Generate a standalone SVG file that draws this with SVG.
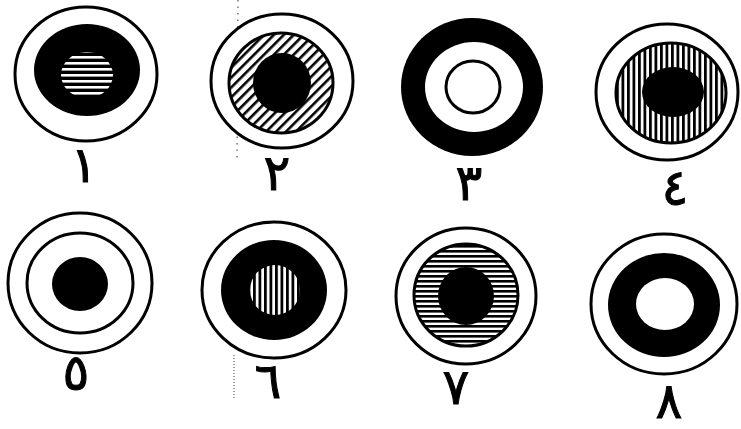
<svg xmlns="http://www.w3.org/2000/svg" width="741" height="429" viewBox="0 0 741 429">
<style>
.outer{fill:#fff;stroke:#000;stroke-width:3}
.thin{fill:none;stroke:#000;stroke-width:3}
.blk{fill:#000}
.wht{fill:#fff}
.lbl{font-family:"DejaVu Sans",sans-serif;font-weight:normal;font-size:50px;fill:#000;stroke:#000;stroke-width:1;text-anchor:middle}
</style>
<defs>
<pattern id="hh" patternUnits="userSpaceOnUse" width="8" height="5"><rect width="8" height="5" fill="#fff"/><rect width="8" height="2.6" fill="#000"/></pattern>
<pattern id="hh1" patternUnits="userSpaceOnUse" width="8" height="6"><rect width="8" height="6" fill="#000"/><rect y="2" width="8" height="2.6" fill="#fff"/></pattern>
<pattern id="hv" patternUnits="userSpaceOnUse" width="5.5" height="8"><rect width="5.5" height="8" fill="#fff"/><rect width="2.8" height="8" fill="#000"/></pattern>
<pattern id="hd" patternUnits="userSpaceOnUse" width="7" height="7" patternTransform="rotate(45)"><rect width="7" height="7" fill="#fff"/><rect width="2.6" height="7" fill="#000"/></pattern>
</defs>
<rect width="741" height="429" fill="#fff"/>
<g id="artifacts" fill="none" stroke="#555" stroke-width="1.2" stroke-dasharray="1.5 5">
<line x1="238" y1="0" x2="237" y2="160"/>
<line x1="234" y1="355" x2="234" y2="398" stroke-dasharray="1 2"/>
</g>
<g id="connectors"/>
<g id="n1">
<ellipse class="outer" cx="86" cy="74" rx="71" ry="67"/>
<ellipse class="blk" cx="87" cy="70" rx="53" ry="46"/>
<ellipse fill="url(#hh1)" cx="87" cy="75" rx="26" ry="23"/>
<text class="lbl" x="84" y="182">١</text>
</g>
<g id="n2">
<ellipse class="outer" cx="282" cy="81" rx="71" ry="67"/>
<ellipse fill="url(#hd)" stroke="#000" stroke-width="3" cx="281" cy="83" rx="52" ry="50"/>
<ellipse class="blk" cx="282" cy="83" rx="29" ry="30"/>
<text class="lbl" x="277" y="190">٢</text>
</g>
<g id="n3">
<ellipse class="blk" cx="472" cy="87" rx="71" ry="69"/>
<ellipse class="wht" cx="474" cy="87" rx="49" ry="45"/>
<ellipse class="thin" cx="473" cy="87" rx="27" ry="26"/>
<text class="lbl" x="469" y="200">٣</text>
</g>
<g id="n4">
<ellipse class="outer" cx="667" cy="92" rx="71" ry="68"/>
<ellipse fill="url(#hv)" stroke="#000" stroke-width="3" cx="671" cy="93" rx="55" ry="50"/>
<ellipse class="blk" cx="673" cy="92" rx="31" ry="25"/>
<text class="lbl" x="675" y="205">٤</text>
</g>
<g id="n5">
<ellipse class="outer" cx="80" cy="283" rx="72" ry="70"/>
<ellipse class="thin" cx="80" cy="283" rx="53" ry="50"/>
<ellipse class="blk" cx="80" cy="284" rx="28" ry="27"/>
<text class="lbl" x="76" y="390">٥</text>
</g>
<g id="n6">
<ellipse class="outer" cx="274" cy="290" rx="72" ry="68"/>
<ellipse class="blk" cx="274" cy="290" rx="53" ry="50"/>
<ellipse fill="url(#hv)" cx="275" cy="290" rx="25" ry="25"/>
<text class="lbl" x="268" y="398">٦</text>
</g>
<g id="n7">
<ellipse class="outer" cx="466" cy="296" rx="70" ry="68"/>
<ellipse fill="url(#hh)" stroke="#000" stroke-width="3" cx="466" cy="295" rx="52" ry="51"/>
<ellipse class="blk" cx="466" cy="296" rx="28" ry="29"/>
<text class="lbl" x="456" y="404">٧</text>
</g>
<g id="n8">
<ellipse class="outer" cx="664" cy="304" rx="73" ry="70"/>
<ellipse class="blk" cx="664" cy="305" rx="56" ry="52"/>
<ellipse class="wht" cx="665" cy="304" rx="29" ry="26"/>
<text class="lbl" x="669" y="418">٨</text>
</g>
</svg>
